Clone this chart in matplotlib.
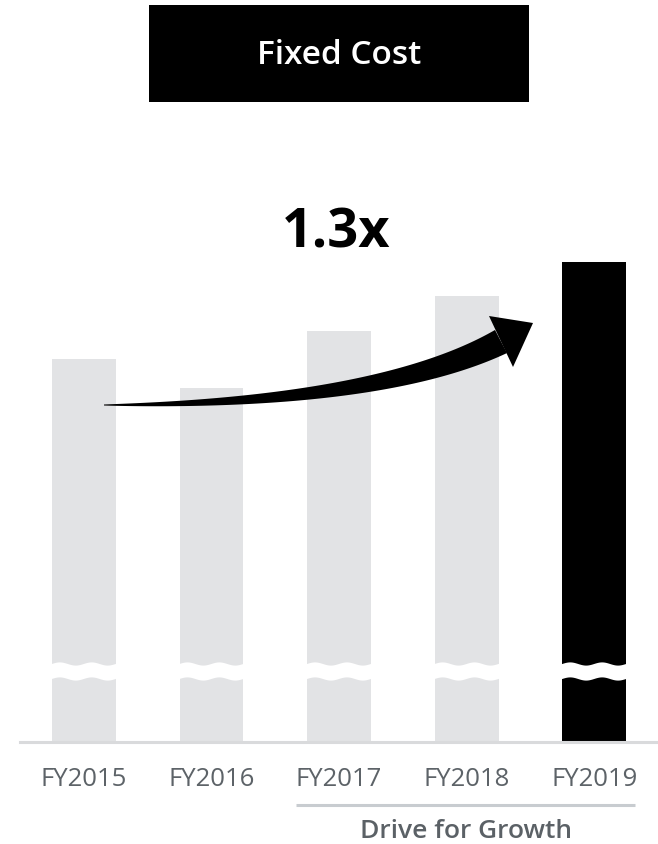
import numpy as np
import matplotlib
matplotlib.use("Agg")
import matplotlib.pyplot as plt
from matplotlib.patches import Rectangle, Polygon

plt.rcParams['font.family'] = ['Open Sans', 'DejaVu Sans']

# data (relative height index, axis is broken near the bottom)
years = ['FY2015', 'FY2016', 'FY2017', 'FY2018', 'FY2019']
fixed_cost = [383, 354, 411, 446, 480]
bar_colors = ['#e2e3e5', '#e2e3e5', '#e2e3e5', '#e2e3e5', '#000000']
growth_label = 'Drive for Growth'
multiple_label = '1.3x'
title = 'Fixed Cost'

W, H = 658, 844
fig = plt.figure(figsize=(W / 100, H / 100), dpi=100)

# main bar axes: x pixels 20..658, y pixels 742 (baseline) .. 242
ax = fig.add_axes([20 / W, (H - 742) / H, 638 / W, 500 / H])
x = np.arange(len(years))
ax.bar(x, fixed_cost, width=0.5, color=bar_colors, zorder=2)
ax.set_xlim(-0.5, 4.5)
ax.set_ylim(0, 500)
for s in ['top', 'left', 'right']:
    ax.spines[s].set_visible(False)
ax.spines['bottom'].set_color('#d9dadc')
ax.spines['bottom'].set_linewidth(2.2)
ax.set_yticks([])
ax.set_xticks(x)
ax.set_xticklabels(years, fontsize=18.5, color='#5d6368')
ax.tick_params(axis='x', length=0, pad=18)

# axis break: wavy white band across each bar
for xi in x:
    xs = np.linspace(xi - 0.27, xi + 0.27, 60)
    wave = 1.6 * np.sin((xs - xi) / 0.25 * 2 * np.pi)
    top = 78 + wave
    bot = 63 + wave
    pts = np.column_stack([np.r_[xs, xs[::-1]], np.r_[top, bot[::-1]]])
    ax.add_patch(Polygon(pts, closed=True, facecolor='white', edgecolor='none', zorder=3))

# overlay in pixel coordinates for decorations
ov = fig.add_axes([0, 0, 1, 1])
ov.set_xlim(0, W)
ov.set_ylim(H, 0)
ov.axis('off')
ov.patch.set_alpha(0)

ov.add_patch(Rectangle((149, 5), 380, 97, facecolor='black', edgecolor='none'))
ov.text(339, 55, title, color='white', fontsize=24, fontweight='semibold',
        ha='center', va='center')

ov.text(336, 233, multiple_label, color='black', fontsize=39, fontweight='bold',
        ha='center', va='center')

# curved tapered arrow
p0 = np.array([104.0, 405.0])
p1 = np.array([381.0, 404.0])
p2 = np.array([501.0, 341.5])
t = np.linspace(0, 1, 120)[:, None]
curve = (1 - t) ** 2 * p0 + 2 * (1 - t) * t * p1 + t ** 2 * p2
deriv = 2 * (1 - t) * (p1 - p0) + 2 * t * (p2 - p1)
deriv /= np.linalg.norm(deriv, axis=1, keepdims=True)
normal = np.column_stack([-deriv[:, 1], deriv[:, 0]])
width = (1.0 + 25.0 * t[:, 0] ** 0.9)[:, None]
upper = curve + normal * width / 2
lower = curve - normal * width / 2
body = np.vstack([upper, lower[::-1]])
ov.add_patch(Polygon(body, closed=True, facecolor='black', edgecolor='none'))
ov.add_patch(Polygon([[489, 316], [533, 323], [513, 367]], closed=True,
                     facecolor='black', edgecolor='none'))

# group bracket line and label
ov.plot([296, 635], [805, 805], color='#c8ccd0', lw=2.2, solid_capstyle='butt')
ov.text(466, 831, growth_label, color='#5b6166', fontsize=19, fontweight='semibold',
        ha='center', va='center')

fig.savefig('out.png', dpi=100)
